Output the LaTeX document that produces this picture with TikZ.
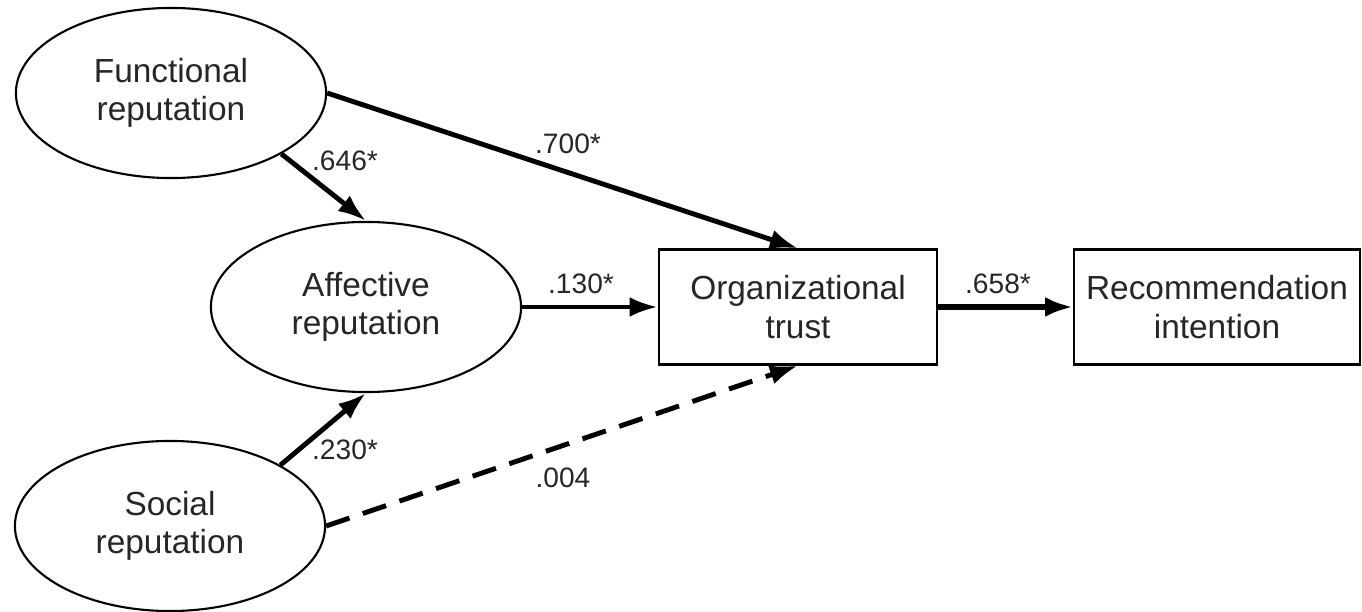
\documentclass[tikz,border=0pt]{standalone}
\usepackage{fontspec}
\setmainfont{Liberation Sans}
\usetikzlibrary{shapes.geometric,arrows.meta}

\begin{document}
\begin{tikzpicture}[x=0.01cm,y=-0.01cm]
  \tikzset{>={Latex[length=8pt,width=5.6pt]}}
  \tikzset{construct/.style={draw, ellipse, line width=0.6pt, inner sep=0pt,
      minimum width=3.1cm, minimum height=1.7cm, align=center,
      text=black!85, font=\fontsize{9.5}{11}\selectfont}}
  \tikzset{measure/.style={draw, rectangle, line width=0.6pt, inner sep=0pt,
      minimum width=2.78cm, minimum height=1.15cm, align=center,
      text=black!85, font=\fontsize{9.5}{11}\selectfont}}
  \tikzset{effect/.style={->, line width=1.4pt}}
  \tikzset{coef/.style={text=black!85, font=\fontsize{8}{9.6}\selectfont}}
  \useasboundingbox (0,0) rectangle (1362,612);

  \node [construct] (Functional) at (171,93) {Functional\\reputation};
  \node [construct] (Affective) at (366,307) {Affective\\reputation};
  \node [construct] (Social) at (170,526) {Social\\reputation};
  \node [measure] (Trust) at (798,307) {Organizational\\trust};
  \node [measure, minimum width=2.85cm] (Recommend) at (1217,307) {Recommendation\\intention};

  \draw [effect] (Functional.south east) -- (Affective.north);
  \draw [effect] (Functional.east) -- (Trust.north);
  \draw [effect] (Affective.east) -- (Trust.west);
  \draw [effect] (Social.north east) -- (Affective.south);
  \draw [effect, dash pattern=on 7pt off 4pt] (Social.east) -- (Trust.south);
  \draw [effect, line width=1.8pt] (Trust.east) -- (Recommend.west);

  \node [coef] (c646) at (345,161) {.646*};
  \node [coef] (c700) at (568,144) {.700*};
  \node [coef] (c130) at (581,284) {.130*};
  \node [coef] (c658) at (998,284) {.658*};
  \node [coef] (c230) at (345,450) {.230*};
  \node [coef] (c004) at (563,478) {.004};
\end{tikzpicture}
\end{document}
